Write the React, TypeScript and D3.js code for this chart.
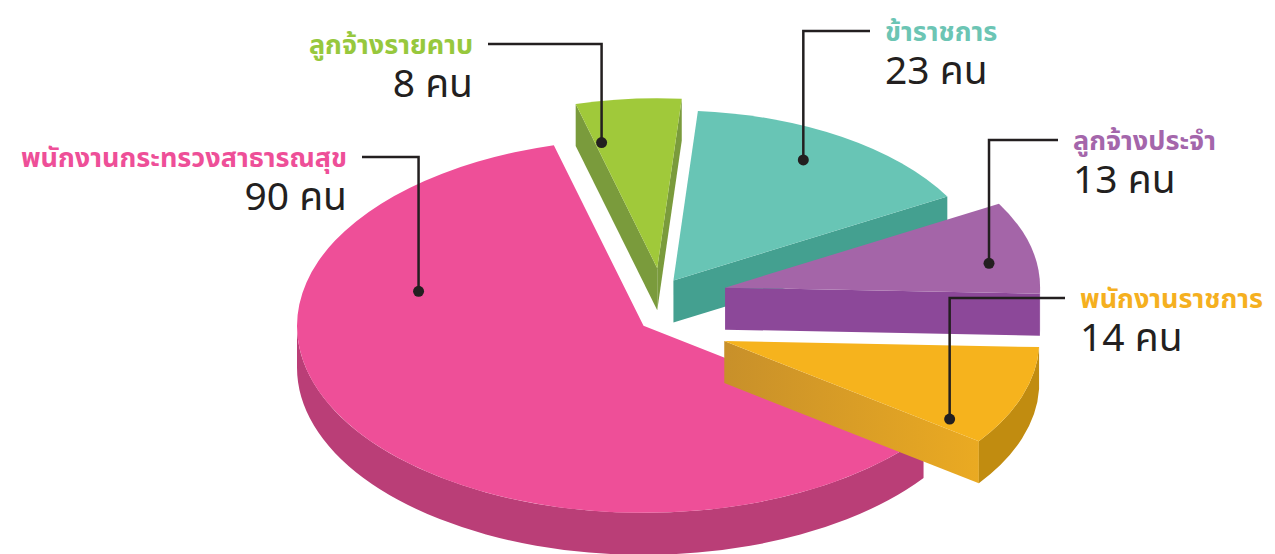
import React from 'react';
import * as d3 from 'd3';

// data (clockwise from the top-left slice)
const categories = ['ลูกจ้างรายคาบ', 'ข้าราชการ', 'ลูกจ้างประจำ', 'พนักงานราชการ', 'พนักงานกระทรวงสาธารณสุข'];
const counts = [8, 23, 13, 14, 90];
const unit = 'คน';

const topColors = ['#A0C93A', '#68C5B5', '#A465A8', '#F6B31D', '#EE4F98'];
const sideColors = ['#7A9B3C', '#44A090', '#8C4899', '#C18C10', '#BA3E77'];
const labelColors = ['#97C83D', '#6CC5B4', '#A466AB', '#F5B01F', '#EE4F98'];

// layout
const W = 1275, H = 554;
const cx = 660, cy = 310, rx = 315, ry = 170, depth = 42;
const rotation = -0.2618;
const explode = [30, 25, 67, 68, 20];
const explodeY = 1.4;
const grow = [1, 1, 1, 1, 1.1];
const drawOrder = [0, 1, 2, 4, 3];
const dotT = [0.08, 0.46, 0.63, 0.9, 0.73];
const dotR = [0.76, 0.82, 0.85, 0.85, 0.675];
const lineY = [44, 31, 140, 298, 157];
const textX = [473, 885, 1073, 1080, 347];
const side = ['end', 'start', 'start', 'start', 'end'];

const thaiFont = "'Noto Sans Thai', 'Noto Sans Thai UI', Loma, Garuda, 'Noto Sans', sans-serif";
const numFont = "'Noto Sans', 'Noto Sans Thai', sans-serif";

const App = () => {
  const pie = d3.pie<number>().sort(null).startAngle(rotation).endAngle(rotation + 2 * Math.PI);
  const arcs = pie(counts);

  const slices = arcs.map((a, i) => {
    const a0 = a.startAngle - Math.PI / 2;
    const a1 = a.endAngle - Math.PI / 2;
    const m = (a0 + a1) / 2;
    const ox = cx + explode[i] * Math.cos(m);
    const oy = cy + explode[i] * explodeY * Math.sin(m);
    const rxi = rx * grow[i], ryi = ry * grow[i];
    const pt = (t: number, dz = 0, f = 1): [number, number] => [ox + rxi * f * Math.cos(t), oy + ryi * f * Math.sin(t) + dz];
    const span = a1 - a0;

    const p0 = pt(a0), p1 = pt(a1);
    const top = `M${ox},${oy}L${p0}A${rxi},${ryi} 0 ${span > Math.PI ? 1 : 0} 1 ${p1}Z`;

    const sides: { d: string; fill: string }[] = [];
    // outer wall, only the part that faces us
    const s0 = ((a0 % (2 * Math.PI)) + 2 * Math.PI) % (2 * Math.PI);
    const s1 = s0 + span;
    [[0, Math.PI], [2 * Math.PI, 3 * Math.PI]].forEach(([lo, hi]) => {
      const s = Math.max(s0, lo), e = Math.min(s1, hi);
      if (e > s) {
        const q0 = pt(s), q1 = pt(e), q1b = pt(e, depth), q0b = pt(s, depth);
        sides.push({
          d: `M${q0}A${rxi},${ryi} 0 0 1 ${q1}L${q1b}A${rxi},${ryi} 0 0 0 ${q0b}Z`,
          fill: sideColors[i],
        });
      }
    });
    // cut faces
    const cut = (t: number) => {
      const q = pt(t), qb = pt(t, depth);
      return `M${ox},${oy}L${q}L${qb}L${ox},${oy + depth}Z`;
    };
    const cuts: { d: string; fill: string }[] = [];
    if (Math.cos(a0) < 0) cuts.push({ d: cut(a0), fill: i === 3 ? 'url(#orangeCut)' : sideColors[i] });
    if (Math.cos(a1) > 0) cuts.push({ d: cut(a1), fill: i === 3 ? 'url(#orangeCut)' : sideColors[i] });

    const dot = pt(a0 + span * dotT[i], 0, dotR[i]);
    return { i, top, sides, cuts, dot, ox, oy, p0, p1 };
  });

  const orange = slices[3];

  return (
    <svg width={W} height={H} style={{ position: 'absolute', left: 0, top: 0, background: '#fff' }}>
      <defs>
        <linearGradient id="orangeCut" gradientUnits="userSpaceOnUse" x1={orange.ox} y1={0} x2={orange.p1[0]} y2={0}>
          <stop offset="0" stopColor="#C8902A" />
          <stop offset="1" stopColor="#EAAA22" />
        </linearGradient>
      </defs>
      {drawOrder.map(k => {
        const s = slices[k];
        return (
          <g key={k}>
            {s.cuts.map((c, j) => <path key={'c' + j} d={c.d} fill={c.fill} />)}
            {s.sides.map((c, j) => <path key={'s' + j} d={c.d} fill={c.fill} />)}
            <path d={s.top} fill={topColors[k]} />
          </g>
        );
      })}
      {slices.map(s => {
        const i = s.i;
        const isEnd = side[i] === 'end';
        const lx = isEnd ? textX[i] + 15 : textX[i] - 15;
        const [dx, dy] = s.dot;
        return (
          <g key={'l' + i}>
            <path d={`M${lx},${lineY[i]}H${dx}V${dy}`} fill="none" stroke="#231F20" strokeWidth={2.5} />
            <circle cx={dx} cy={dy} r={5.5} fill="#231F20" />
            <text x={textX[i]} y={lineY[i] + 10} textAnchor={side[i]} fill={labelColors[i]}
              fontFamily={thaiFont} fontWeight={700} fontSize={27}>{categories[i]}</text>
            <text x={textX[i]} y={lineY[i] + 53} textAnchor={side[i]} fill="#231F20"
              fontFamily={numFont} fontWeight={400} fontSize={39}>{`${counts[i]} ${unit}`}</text>
          </g>
        );
      })}
    </svg>
  );
};

export default App;
